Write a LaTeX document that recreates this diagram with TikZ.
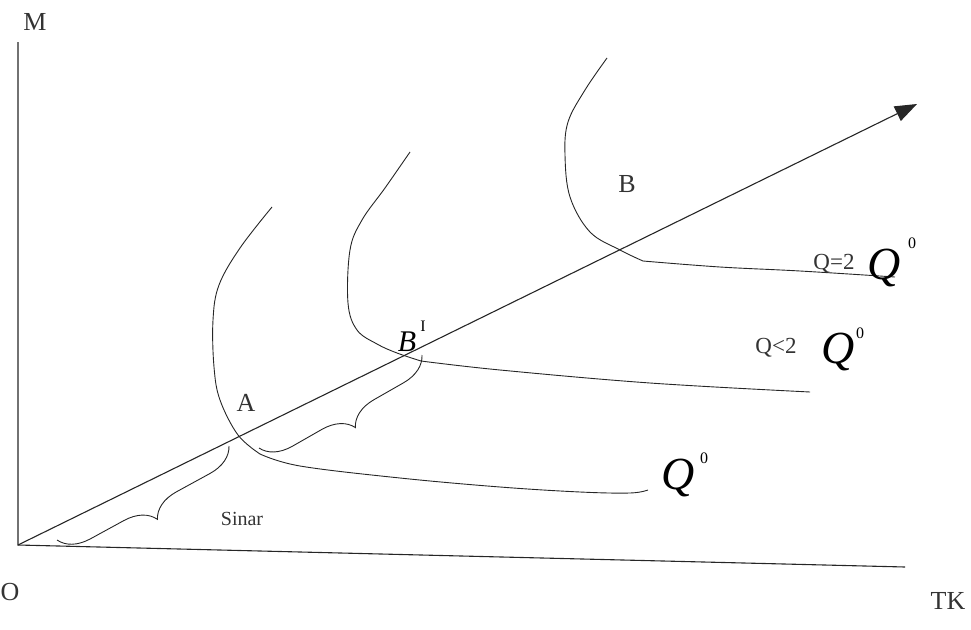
\documentclass[tikz,border=0pt]{standalone}
\usepackage{fontspec}
\setmainfont{Liberation Serif}
\usetikzlibrary{arrows.meta,decorations.pathreplacing}
\begin{document}
\begin{tikzpicture}[x=1pt,y=-1pt,
  axis/.style={line width=1.1pt,black!85},
  iso/.style={line width=0.9pt,black!85},
  lbl/.style={inner sep=0pt,font=\fontsize{26}{28}\selectfont,text=black!80},
  bigq/.style={inner sep=0pt,font=\fontsize{46}{48}\selectfont\itshape},
  sup/.style={inner sep=0pt,font=\fontsize{16}{18}\selectfont},
  bracestyle/.style={line width=0.9pt,black!85,decorate,decoration={brace,amplitude=#1}}]
\useasboundingbox (0,0) rectangle (971,629);
% axes
\coordinate (O) at (18,545);
\coordinate (Mtop) at (18,42);
\coordinate (Xend) at (905,567);
\coordinate (Rend) at (917,104);
\draw[axis] (Mtop) -- (O) -- (Xend);
\draw[axis,-{Triangle[length=22pt,width=16pt]}] (O) -- (Rend);
% isoquants
\coordinate (K1) at (260,454);
\coordinate (K2) at (421,361);
\coordinate (K3) at (643,261);
\draw[iso] plot[smooth,tension=0.6] coordinates {(272,207) (240,248) (219,285) (213,320) (214,367) (220,400) (238,435) (260,454)};
\draw[iso] plot[smooth,tension=0.6] coordinates {(260,454) (300,466) (400,478) (500,487) (580,492) (630,493) (648,490)};
\draw[iso] plot[smooth,tension=0.6] coordinates {(410,152) (385,188) (362,220) (350,250) (348,303) (357,330) (377,344) (397,353) (421,361)};
\draw[iso] plot[smooth,tension=0.6] coordinates {(421,361) (500,370) (650,383) (810,392)};
\draw[iso] plot[smooth,tension=0.6] coordinates {(607,58) (585,90) (568,122) (565,155) (570,197) (590,232) (620,250) (643,261)};
\draw[iso] plot[smooth,tension=0.6] coordinates {(643,261) (720,267) (800,271) (895,277)};
% braces
\coordinate (b1s) at (57,540);
\coordinate (b1e) at (229,446);
\coordinate (b2s) at (259,448);
\coordinate (b2e) at (422,355);
\draw[bracestyle=30] (b1e) -- (b1s);
\draw[bracestyle=30] (b2e) -- (b2s);
% labels
\node[lbl] (lM) at (35,22) {M};
\node[lbl] (lO) at (10,592) {O};
\node[lbl] (lTK) at (948,601) {TK};
\node[lbl] (lA) at (246,403) {A};
\node[lbl] (lB) at (627,184) {B};
\node[inner sep=0pt,font=\fontsize{30}{32}\selectfont\itshape] (lBp) at (407,342) {B};
\node[sup] (lBps) at (423,326) {I};
\node[lbl,font=\fontsize{20}{22}\selectfont] (lSinar) at (242,519) {Sinar};
\node[bigq] (q1) at (678,478) {Q};
\node[sup] (q1s) at (704,458) {0};
\node[lbl,font=\fontsize{23}{25}\selectfont] (q2a) at (776,348) {Q<2};
\node[bigq] (q2) at (838,352) {Q};
\node[sup] (q2s) at (860,333) {0};
\node[lbl,font=\fontsize{23}{25}\selectfont] (q3a) at (834,264) {Q=2};
\node[bigq] (q3) at (884,268) {Q};
\node[sup] (q3s) at (912,243) {0};
\end{tikzpicture}
\end{document}
